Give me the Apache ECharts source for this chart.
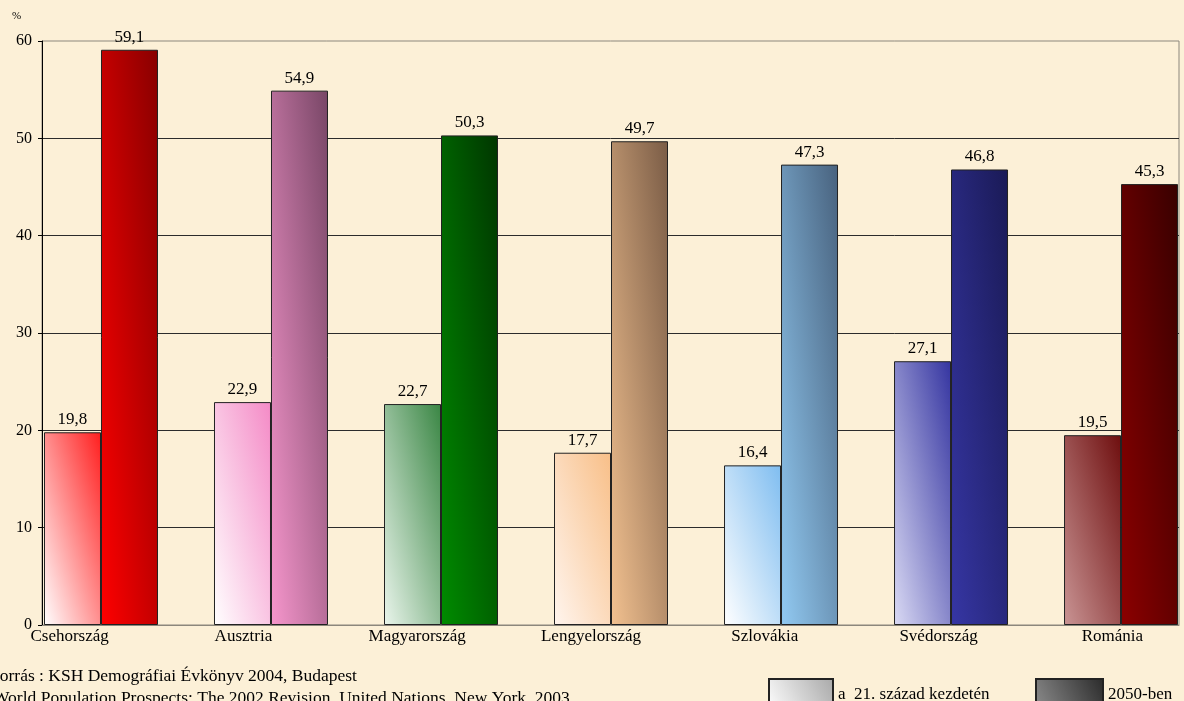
<!DOCTYPE html>
<html>
<head>
<meta charset="utf-8">
<script src="https://cdn.jsdelivr.net/npm/echarts@6/dist/echarts.min.js"></script>
<style>
html,body{margin:0;padding:0;background:#fcf0d7;}
#c{width:1184px;height:701px;}
</style>
</head>
<body>
<div id="c"></div>
<script>
const categories = ['Csehország','Ausztria','Magyarország','Lengyelország','Szlovákia','Svédország','Románia'];
const early = [19.8, 22.9, 22.7, 17.7, 16.4, 27.1, 19.5];
const y2050 = [59.1, 54.9, 50.3, 49.7, 47.3, 46.8, 45.3];
const seriesNames = ['a  21. század kezdetén', '2050-ben'];
const yTicks = [0, 10, 20, 30, 40, 50, 60];
const sourceLines = ['Forrás : KSH Demográfiai Évkönyv 2004, Budapest', 'World Population Prospects: The 2002 Revision, United Nations, New York, 2003'];

// colour pairs per category: [bottom-left, top-right]
const lightStops = [
  ['#ffffff', '#ff1e1e'],
  ['#ffffff', '#f48ac6'],
  ['#eaf5ec', '#3a8644'],
  ['#fff5ee', '#f8bf88'],
  ['#ffffff', '#7fbdf0'],
  ['#dadaf4', '#3434a0'],
  ['#c99494', '#6e0e0e']
];
const darkStops = [
  ['#ff0000', '#880000'],
  ['#f696cc', '#784666'],
  ['#008c00', '#003600'],
  ['#f2c190', '#7a5c46'],
  ['#92caf2', '#48627e'],
  ['#3636a4', '#1a1a56'],
  ['#8c0000', '#380000']
];

const PLOT_H = 584, Y_MAX = 60, BAR_W = 57;
// gradient varying equally along width and height of each bar (bottom-left -> top-right)
function diagGrad(value, stops) {
  const w = BAR_W, h = Math.max(1, value / Y_MAX * PLOT_H);
  const a = 1 / (2 * w), b = -1 / (2 * h);
  const s = a * a + b * b;
  const dx = a / s / w, dy = b / s / h;
  return new echarts.graphic.LinearGradient(0, 1, dx, 1 + dy, [
    {offset: 0, color: stops[0]}, {offset: 1, color: stops[1]}
  ]);
}
const SERIF = '"Liberation Serif", "DejaVu Serif", serif';
const fmt = p => p.value[1].toFixed(1).replace('.', ',');

const chart = echarts.init(document.getElementById('c'));
chart.setOption({
  backgroundColor: '#fcf0d7',
  animation: false,
  grid: [
    {left: 42, right: 5, top: 41, bottom: 76, show: true, borderColor: '#8c877c', borderWidth: 1, backgroundColor: 'transparent'},
    {left: 42, right: 5, top: 41, bottom: 76},
    {left: 0, right: 0, top: 41, bottom: 76}
  ],
  xAxis: [
    {gridIndex: 0, type: 'category', data: categories, axisLine: {show: true, lineStyle: {color: '#8c877c'}}, axisTick: {show: false}, axisLabel: {show: false}},
    {gridIndex: 1, type: 'value', min: -0.347, max: 6.341, show: false},
    {gridIndex: 2, type: 'value', min: -0.4005, max: 6.412, show: false}
  ],
  yAxis: [
    {gridIndex: 0, type: 'value', min: 0, max: Y_MAX, interval: 10,
      axisLine: {show: true, lineStyle: {color: '#000', width: 1}},
      axisTick: {show: true, length: 4, lineStyle: {color: '#000'}},
      axisLabel: {fontFamily: SERIF, fontSize: 16, color: '#000', margin: 10,
        formatter: v => yTicks.includes(v) ? String(v) : ''},
      splitLine: {show: true, showMinLine: false, showMaxLine: false, lineStyle: {color: '#2b2b2b', width: 1}}
    },
    {gridIndex: 1, type: 'value', min: 0, max: Y_MAX, show: false},
    {gridIndex: 2, type: 'value', min: 0, max: Y_MAX, show: false}
  ],
  legend: [
    {data: [seriesNames[0]], left: 763, top: 673, itemWidth: 64, itemHeight: 32, icon: 'rect',
      textStyle: {fontFamily: SERIF, fontSize: 17, color: '#000'}, selectedMode: false},
    {data: [seriesNames[1]], left: 1030, top: 673, itemWidth: 67, itemHeight: 32, icon: 'rect',
      textStyle: {fontFamily: SERIF, fontSize: 17, color: '#000'}, selectedMode: false}
  ],
  graphic: [
    {type: 'text', left: 12, top: 11, style: {text: '%', font: '11px ' + SERIF, fill: '#000'}},
    {type: 'text', left: -10, top: 667, style: {text: sourceLines[0], font: '17.5px ' + SERIF, fill: '#000'}},
    {type: 'text', left: -7, top: 689, style: {text: sourceLines[1], font: '17.5px ' + SERIF, fill: '#000'}}
  ],
  series: [
    {
      name: seriesNames[0], type: 'bar', xAxisIndex: 1, yAxisIndex: 1,
      barWidth: BAR_W, barGap: '0%',
      itemStyle: {color: new echarts.graphic.LinearGradient(0, 1, 1, 0, [{offset: 0, color: '#ffffff'}, {offset: 1, color: '#a8a8a8'}]), borderColor: '#222', borderWidth: 1},
      label: {show: true, position: 'top', distance: 4, fontFamily: SERIF, fontSize: 17, color: '#000', formatter: fmt},
      data: early.map((v, i) => ({value: [i, v], itemStyle: {color: diagGrad(v, lightStops[i])}}))
    },
    {
      name: seriesNames[1], type: 'bar', xAxisIndex: 1, yAxisIndex: 1,
      barWidth: BAR_W, barGap: '0%',
      itemStyle: {color: new echarts.graphic.LinearGradient(0, 1, 1, 0, [{offset: 0, color: '#8e8e8e'}, {offset: 1, color: '#2a2a2a'}]), borderColor: '#222', borderWidth: 1},
      label: {show: true, position: 'top', distance: 4, fontFamily: SERIF, fontSize: 17, color: '#000', formatter: fmt},
      data: y2050.map((v, i) => ({value: [i, v], itemStyle: {color: diagGrad(v, darkStops[i])}}))
    },
    {
      name: 'categoryLabels', type: 'scatter', xAxisIndex: 2, yAxisIndex: 2,
      symbol: 'rect', symbolSize: 1, clip: false, silent: true,
      itemStyle: {color: 'rgba(0,0,0,0)', opacity: 1},
      label: {show: true, position: 'bottom', distance: 3, fontFamily: SERIF, fontSize: 17, color: '#000', opacity: 1,
        formatter: p => categories[p.dataIndex]},
      data: categories.map((c, i) => [i, 0])
    }
  ]
});
</script>
</body>
</html>
